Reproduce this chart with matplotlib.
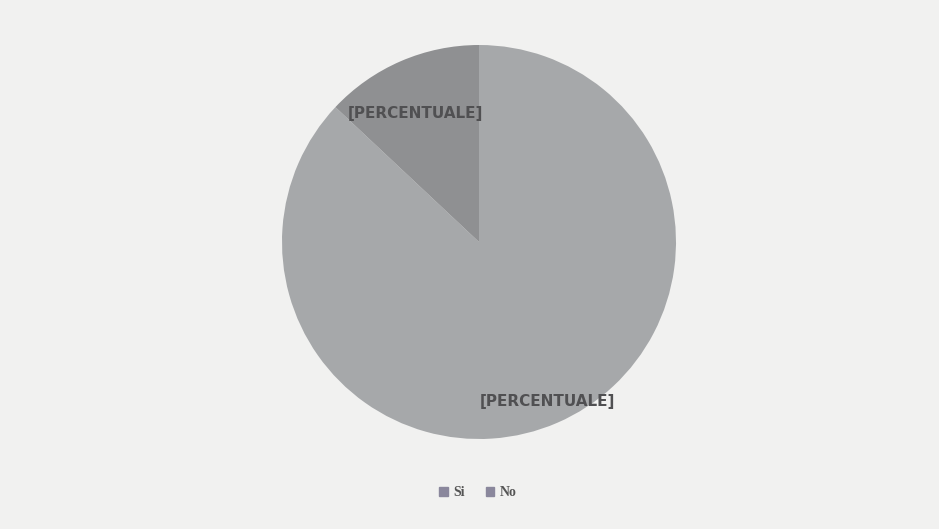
import matplotlib
matplotlib.use("Agg")
import matplotlib.pyplot as plt
import numpy as np

categories = ["Si", "No"]
values = [87, 13]
label_text = "[PERCENTUALE]"
colors = ["#a6a8aa", "#8f9092"]

fig = plt.figure(figsize=(9.39, 5.29), dpi=100)
fig.patch.set_facecolor("#f1f1f0")

W, H = 939, 529
cx, cy, r = 479, 242, 197
ax = fig.add_axes([(cx - r) / W, (H - cy - r) / H, 2 * r / W, 2 * r / H])
ax.set_facecolor("none")

wedges, _ = ax.pie(values, colors=colors, startangle=90, counterclock=False,
                   radius=1.0, wedgeprops=dict(linewidth=0))
ax.set_xlim(-1, 1)
ax.set_ylim(-1, 1)
ax.set_aspect("equal")
ax.axis("off")

label_r = [0.88, 0.73]
label_da = [0, 3]
for w, lr, da in zip(wedges, label_r, label_da):
    mid = np.deg2rad((w.theta1 + w.theta2) / 2 + da)
    ax.text(lr * np.cos(mid), lr * np.sin(mid), label_text, ha="center", va="center",
            fontsize=11, color="#505052", family="DejaVu Sans Condensed",
            fontweight="bold")

handles = [plt.Rectangle((0, 0), 1, 1, color="#8a879c") for _ in categories]
fig.legend(handles, categories, loc="center", bbox_to_anchor=(478 / W, 1 - 493 / H),
           ncol=2, frameon=False, handlelength=0.6, handleheight=0.6,
           handletextpad=0.4, columnspacing=1.5,
           prop=dict(family="Liberation Serif", size=10, weight="bold"),
           labelcolor="#555555")

fig.savefig("out.png", dpi=100, facecolor=fig.get_facecolor())
